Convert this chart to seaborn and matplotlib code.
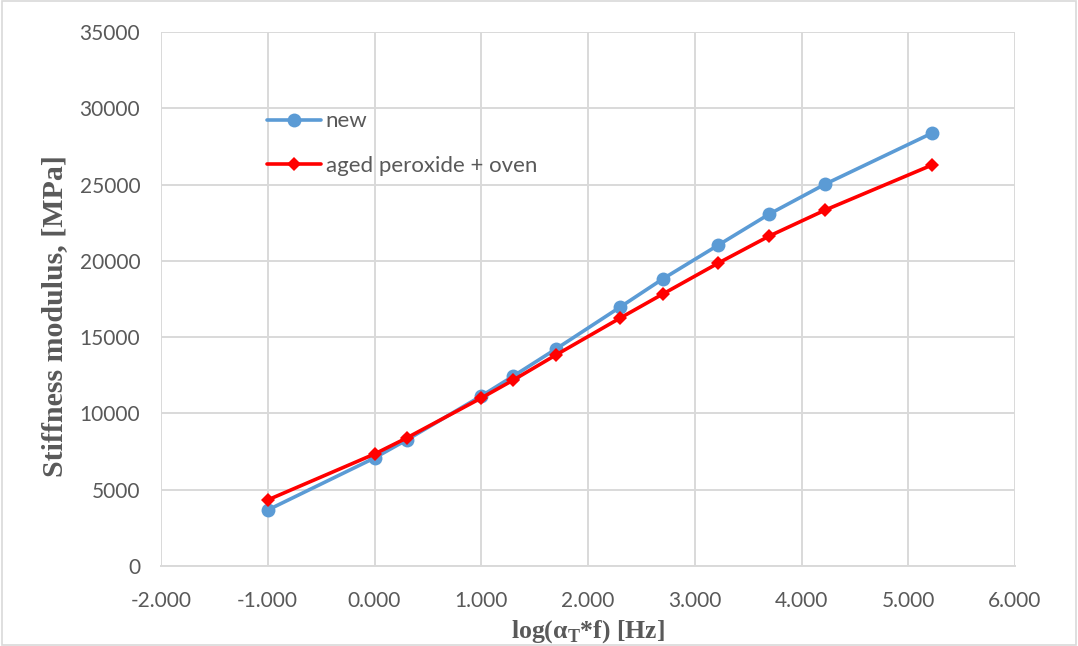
import matplotlib
matplotlib.use("Agg")
import matplotlib.pyplot as plt
import seaborn as sns
import pandas as pd
from matplotlib.patches import Rectangle

# data
x_vals = [-1.0, 0.0, 0.301, 1.0, 1.301, 1.699, 2.301, 2.699, 3.222, 3.699, 4.222, 5.222]
new_vals = [3670, 7080, 8260, 11140, 12450, 14220, 16970, 18810, 21040, 23070, 25030, 28370]
aged_vals = [4330, 7340, 8390, 11010, 12190, 13830, 16250, 17820, 19860, 21630, 23330, 26280]
series_names = ["new", "aged peroxide + oven"]
x_ticks = [-2, -1, 0, 1, 2, 3, 4, 5, 6]
y_ticks = [0, 5000, 10000, 15000, 20000, 25000, 30000, 35000]

sns.set_style("white")
plt.rcParams['font.family'] = ['Lato', 'DejaVu Sans']

df_new = pd.DataFrame({"x": x_vals, "y": new_vals})
df_aged = pd.DataFrame({"x": x_vals, "y": aged_vals})

fig = plt.figure(figsize=(10.78, 6.46), dpi=100)
ax = fig.add_axes([161/1078, 1-566/646, (1015-161)/1078, (566-32)/646])

sns.lineplot(data=df_new, x="x", y="y", ax=ax, color="#5B9BD5", linewidth=2.6,
             marker="o", markersize=10, markeredgewidth=0, label=series_names[0],
             sort=False, zorder=3)
sns.lineplot(data=df_aged, x="x", y="y", ax=ax, color="#FF0000", linewidth=2.6,
             marker="D", markersize=7.5, markeredgewidth=0, label=series_names[1],
             sort=False, zorder=4)

ax.set_xlim(-2, 6)
ax.set_ylim(0, 35000)
ax.set_xticks(x_ticks)
ax.set_xticklabels([f"{v:.3f}" for v in x_ticks])
ax.set_yticks(y_ticks)
ax.set_yticklabels([str(v) for v in y_ticks])
ax.grid(True, color="#D9D9D9", linewidth=1.4)
ax.set_axisbelow(True)
for s in ["top", "right", "left"]:
    ax.spines[s].set_visible(False)
ax.spines["bottom"].set_color("#D9D9D9")
ax.spines["bottom"].set_linewidth(1.4)
ax.tick_params(axis="both", length=0, labelsize=15, labelcolor="#595959")
ax.tick_params(axis="y", pad=15)
ax.tick_params(axis="x", pad=18)

ax.set_xlabel(r"log(α$_\mathregular{T}$*f) [Hz]", fontsize=18.5, fontweight="bold",
              family="Liberation Serif", color="#595959", labelpad=5)
ax.set_ylabel("Stiffness modulus, [MPa]", fontsize=21.5, fontweight="bold",
              family="Liberation Serif", color="#595959")
ax.yaxis.set_label_coords((68 - 161) / 854, (566 - 316) / 534)

leg = ax.legend(loc="center left", bbox_to_anchor=(0.124, 0.791), frameon=False,
                fontsize=16, handlelength=2.45, labelspacing=1.1, handletextpad=0.2,
                borderaxespad=0, borderpad=0)
for t in leg.get_texts():
    t.set_color("#595959")

fig.patches.append(Rectangle((0.002, 0.002), 0.996, 0.996, transform=fig.transFigure,
                             fill=False, edgecolor="#D9D9D9", linewidth=1.2))

fig.savefig("out.png", dpi=100)
